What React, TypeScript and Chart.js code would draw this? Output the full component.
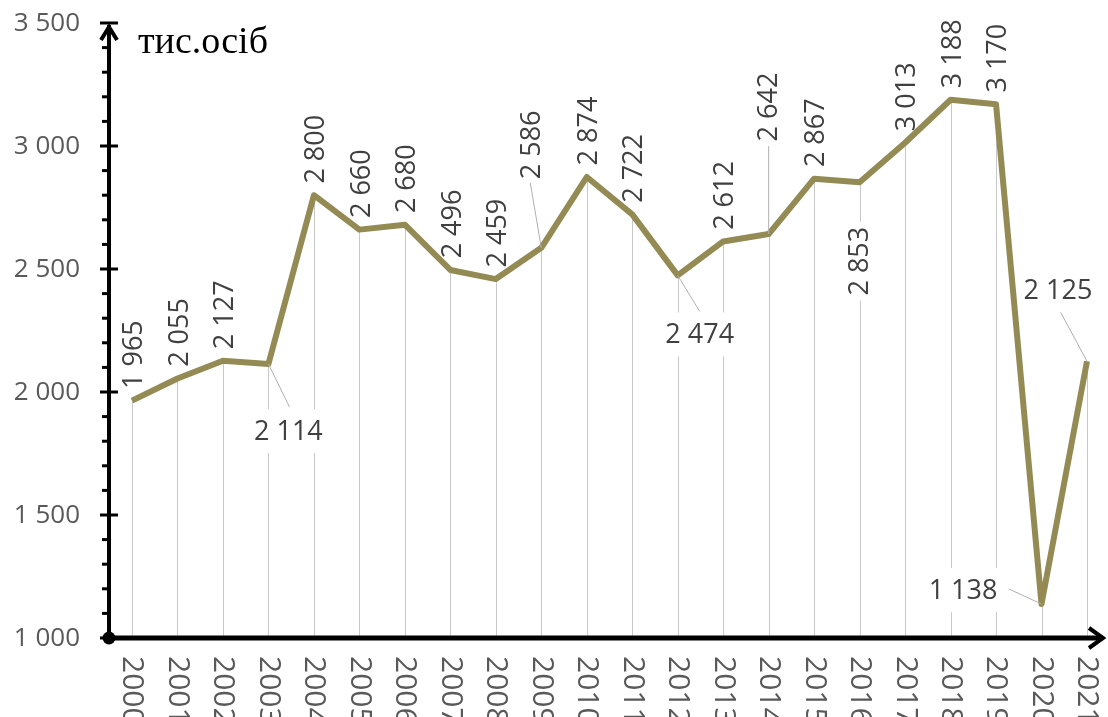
import React, { useEffect, useRef } from "react";
import { Chart, registerables } from "chart.js";

Chart.register(...registerables);

const years = [
  "2000", "2001", "2002", "2003", "2004", "2005", "2006", "2007", "2008", "2009", "2010",
  "2011", "2012", "2013", "2014", "2015", "2016", "2017", "2018", "2019", "2020", "2021",
];
const values = [
  1965, 2055, 2127, 2114, 2800, 2660, 2680, 2496, 2459, 2586, 2874,
  2722, 2474, 2612, 2642, 2867, 2853, 3013, 3188, 3170, 1138, 2125,
];
const yTicks = [1000, 1500, 2000, 2500, 3000, 3500];
const yMinorStep = 100;
const unitLabel = "тис.осіб";

// label placement (style only): offset of label centre from its point, rotation, box, leader anchor
type Place = { dx: number; dy: number; rot: boolean; box?: boolean; leader?: [number, number] };
const STD: Place = { dx: 1.5, dy: -46, rot: true };
const placements: Place[] = years.map(() => STD);
placements[3] = { dx: 20, dy: 67, rot: false, box: true, leader: [1, -24] };
placements[9] = { dx: -10, dy: -103, rot: true, leader: [-1, 38] };
placements[12] = { dx: 22, dy: 59, rot: false, box: true, leader: [0, -23] };
placements[14] = { dx: 0, dy: -127, rot: true, leader: [0, 39] };
placements[16] = { dx: 0, dy: 79, rot: true, box: true };
placements[20] = { dx: -78.5, dy: -14, rot: false, box: true, leader: [46, -1] };
placements[21] = { dx: -29, dy: -71, rot: false, box: true, leader: [1, 19] };

const fmt = (v: number) => String(v).replace(/\B(?=(\d{3})+(?!\d))/g, " ");

const LINE_COLOR = "#948B54";
const LABEL_FONT = '27px "Open Sans"';
const TICK_FONT = '26px "Open Sans"';
const XTICK_FONT = '30px "Open Sans"';

const decor = {
  id: "decor",
  beforeDatasetsDraw(chart: any) {
    const { ctx, scales, chartArea } = chart;
    const x = scales.x, y = scales.y;
    ctx.save();
    ctx.strokeStyle = "#C8C8C8";
    ctx.lineWidth = 1;
    values.forEach((v, i) => {
      const px = Math.round(x.getPixelForValue(i)) + 0.5;
      ctx.beginPath();
      ctx.moveTo(px, y.getPixelForValue(v));
      ctx.lineTo(px, chartArea.bottom);
      ctx.stroke();
    });
    ctx.restore();
  },
  afterDatasetsDraw(chart: any) {
    const { ctx, scales, chartArea } = chart;
    const x = scales.x, y = scales.y;
    ctx.save();
    ctx.font = LABEL_FONT;
    // leaders and boxes
    values.forEach((v, i) => {
      const p = placements[i];
      const px = x.getPixelForValue(i);
      const py = y.getPixelForValue(v);
      const cx = px + p.dx, cy = py + p.dy;
      if (p.leader) {
        ctx.strokeStyle = "#B0B0B0";
        ctx.lineWidth = 1;
        ctx.beginPath();
        ctx.moveTo(cx + p.leader[0], cy + p.leader[1]);
        ctx.lineTo(px, py);
        ctx.stroke();
      }
      if (p.box) {
        const tw = ctx.measureText(fmt(v)).width + 10;
        const th = 46;
        ctx.fillStyle = "#ffffff";
        if (p.rot) ctx.fillRect(cx - th / 2, cy - tw / 2, th, tw);
        else ctx.fillRect(cx - tw / 2, cy - th / 2 + 1, tw, th - 2);
      }
    });
    // label text
    ctx.fillStyle = "#404040";
    ctx.textAlign = "center";
    ctx.textBaseline = "middle";
    values.forEach((v, i) => {
      const p = placements[i];
      const cx = x.getPixelForValue(i) + p.dx;
      const cy = y.getPixelForValue(v) + p.dy;
      ctx.save();
      ctx.translate(cx, cy);
      if (p.rot) ctx.rotate(-Math.PI / 2);
      ctx.fillText(fmt(v), 0, 1);
      ctx.restore();
    });

    // axes
    const ax = chartArea.left;
    const ay = chartArea.bottom;
    ctx.strokeStyle = "#000";
    ctx.fillStyle = "#000";
    ctx.lineCap = "butt";
    ctx.lineWidth = 4;
    ctx.beginPath();
    ctx.moveTo(ax, ay);
    ctx.lineTo(ax, chartArea.top + 2);
    ctx.stroke();
    ctx.lineWidth = 5;
    ctx.beginPath();
    ctx.moveTo(ax, ay);
    ctx.lineTo(chartArea.right - 2, ay);
    ctx.stroke();
    // arrows
    ctx.lineWidth = 4;
    ctx.lineJoin = "miter";
    ctx.beginPath();
    ctx.moveTo(ax - 8, chartArea.top + 17);
    ctx.lineTo(ax, chartArea.top + 4);
    ctx.lineTo(ax + 8, chartArea.top + 17);
    ctx.stroke();
    ctx.beginPath();
    ctx.moveTo(chartArea.right - 16, ay - 10);
    ctx.lineTo(chartArea.right - 2, ay);
    ctx.lineTo(chartArea.right - 16, ay + 10);
    ctx.stroke();
    // ticks
    ctx.lineWidth = 3;
    for (let t = yTicks[0]; t <= yTicks[yTicks.length - 1]; t += yMinorStep) {
      const ty = y.getPixelForValue(t);
      const major = yTicks.includes(t);
      ctx.beginPath();
      ctx.moveTo(ax - (major ? 9 : 7), ty);
      ctx.lineTo(ax + (major ? 9 : 0), ty);
      ctx.stroke();
    }
    // origin dot
    ctx.beginPath();
    ctx.arc(ax, ay, 6.5, 0, Math.PI * 2);
    ctx.fill();

    // y tick labels
    ctx.font = TICK_FONT;
    ctx.fillStyle = "#595959";
    ctx.textAlign = "right";
    ctx.textBaseline = "middle";
    yTicks.forEach((t) => {
      ctx.fillText(fmt(t), ax - 29, y.getPixelForValue(t) + 1);
    });
    // x tick labels (rotated clockwise)
    ctx.font = XTICK_FONT;
    ctx.textAlign = "left";
    years.forEach((yr, i) => {
      ctx.save();
      ctx.translate(x.getPixelForValue(i), ay + 18);
      ctx.rotate(Math.PI / 2);
      ctx.fillText(yr, 0, 0);
      ctx.restore();
    });
    // unit label
    ctx.font = '38px "Liberation Serif"';
    ctx.fillStyle = "#000";
    ctx.textBaseline = "alphabetic";
    ctx.textAlign = "left";
    ctx.fillText(unitLabel, ax + 29, 53);
    ctx.restore();
  },
};

export default function App() {
  const ref = useRef<HTMLCanvasElement>(null);
  useEffect(() => {
    if (!ref.current) return;
    const chart = new Chart(ref.current, {
      type: "line",
      data: {
        datasets: [
          {
            data: values.map((v, i) => ({ x: i, y: v })),
            borderColor: LINE_COLOR,
            borderWidth: 6,
            pointRadius: 0,
            tension: 0,
            borderJoinStyle: "round",
            fill: false,
          },
        ],
      },
      options: {
        animation: false,
        responsive: false,
        events: [],
        layout: { padding: { left: 109, right: 3, top: 23, bottom: 79 } },
        plugins: { legend: { display: false }, tooltip: { enabled: false } },
        scales: {
          x: { type: "linear", min: -0.5058, max: 21.396, display: false },
          y: { type: "linear", min: 1000, max: 3500, display: false },
        },
      },
      plugins: [decor],
    });
    return () => chart.destroy();
  }, []);
  return (
    <div style={{ position: "fixed", left: 0, top: 0, width: 1108, height: 717, background: "#fff" }}>
      <canvas ref={ref} width={1108} height={717} />
    </div>
  );
}
